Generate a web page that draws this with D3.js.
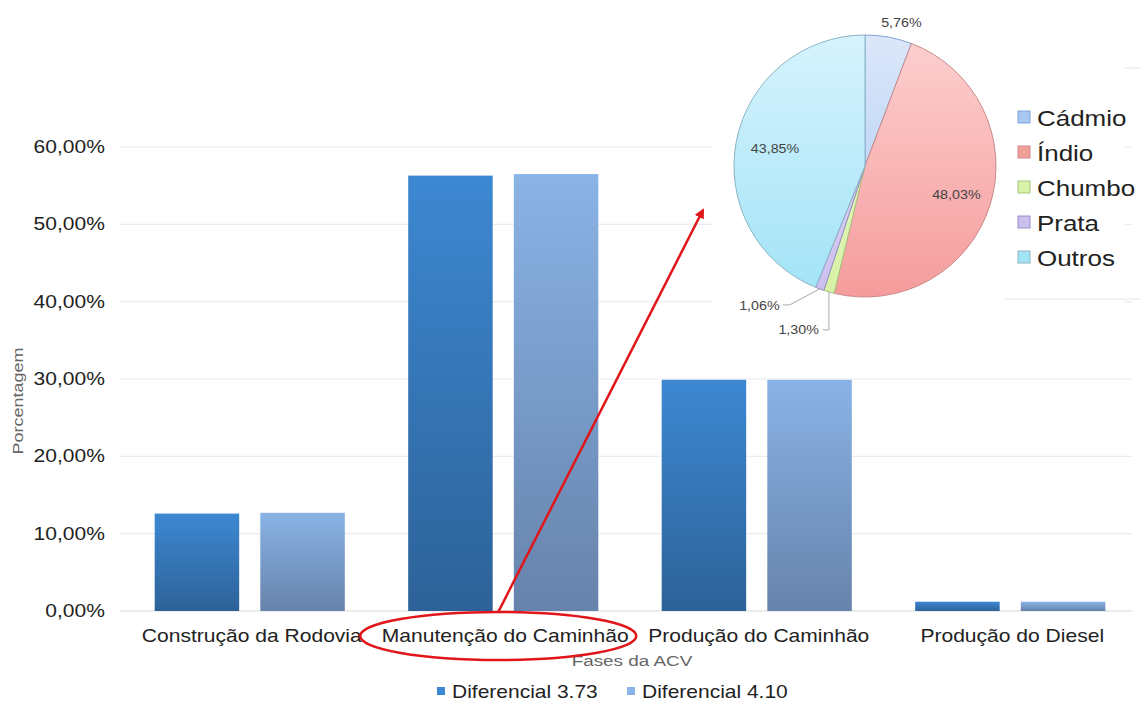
<!DOCTYPE html>
<html>
    <head>
        <meta charset="utf-8">
        <title>Fases da ACV</title>
        <style type="text/css">
            body {
                margin: 0;
                background-color: #ffffff;
            }
            svg {
                display: block;
                font-family: "Liberation Sans", Arial, sans-serif;
            }
        </style>
        <script src="https://d3js.org/d3.v7.min.js"></script>
    </head>
    <body>
        <svg id="chart" width="1141" height="702"></svg>
        <script>
            // bar chart data
            const fases = ["Construção da Rodovia", "Manutenção do Caminhão", "Produção do Caminhão", "Produção do Diesel"];
            const series = ["Diferencial 3.73", "Diferencial 4.10"];
            const dif373 = [12.6, 56.3, 29.9, 1.2];
            const dif410 = [12.7, 56.5, 29.9, 1.2];
            const yTicks = [0, 10, 20, 30, 40, 50, 60];

            // pie inset data
            const metais = ["Cádmio", "Índio", "Chumbo", "Prata", "Outros"];
            const metalPct = [5.76, 48.03, 1.30, 1.06, 43.85];

            const svg = d3.select("#chart");
            const defs = svg.append("defs");

            // the source picture is stretched sideways, so the text is too
            const SX = 1.17;
            const fmt = v => v.toFixed(2).replace(".", ",") + "%";
            const place = (x, y, sx) => `translate(${x},${y}) scale(${sx || SX},1)`;

            const x0 = d3.scaleBand().domain(fases).range([123, 1137]).paddingInner(0.25).paddingOuter(0.125);
            const x1 = d3.scaleBand().domain(series).range([0, x0.bandwidth()]).paddingInner(0.2);
            const y = d3.scaleLinear().domain([0, 60]).range([611, 147]);

            // gradients
            const barGrad = [["#3d88d2", "#2d6298"], ["#8ab3e6", "#6683ab"]];
            series.forEach((s, i) => {
                const g = defs.append("linearGradient").attr("id", "bar" + i)
                    .attr("x1", 0).attr("y1", 0).attr("x2", 0).attr("y2", 1);
                g.append("stop").attr("offset", "0%").attr("stop-color", barGrad[i][0]);
                g.append("stop").attr("offset", "100%").attr("stop-color", barGrad[i][1]);
            });

            // gridlines
            svg.append("g").selectAll("line").data(yTicks).join("line")
                .attr("x1", 120).attr("x2", 1132)
                .attr("y1", d => y(d)).attr("y2", d => y(d))
                .attr("stroke", d => d === 0 ? "#d9d9d9" : "#ececec")
                .attr("stroke-width", 1.2);

            // y tick labels
            svg.append("g").selectAll("text").data(yTicks).join("text")
                .attr("transform", d => place(105, y(d) + 6))
                .attr("text-anchor", "end")
                .attr("font-size", 18)
                .attr("fill", "#222")
                .text(d => fmt(d));

            // bars
            const rows = fases.map((f, i) => ({ fase: f, vals: [dif373[i], dif410[i]] }));
            svg.append("g").selectAll("g").data(rows).join("g")
                .attr("transform", d => `translate(${x0(d.fase)},0)`)
                .selectAll("rect").data(d => d.vals.map((v, i) => ({ s: series[i], i: i, v: v }))).join("rect")
                .attr("x", d => x1(d.s))
                .attr("y", d => y(d.v))
                .attr("width", x1.bandwidth())
                .attr("height", d => y(0) - y(d.v))
                .attr("fill", d => `url(#bar${d.i})`);

            // x labels
            svg.append("g").selectAll("text").data(fases).join("text")
                .attr("transform", d => place(x0(d) + x0.bandwidth() / 2 + 2, 642))
                .attr("text-anchor", "middle")
                .attr("font-size", 18)
                .attr("fill", "#222")
                .text(d => d);

            svg.append("text")
                .attr("transform", place(632, 666, 1.22))
                .attr("text-anchor", "middle")
                .attr("font-size", 15.5)
                .attr("fill", "#666")
                .text("Fases da ACV");

            svg.append("text")
                .attr("transform", "translate(23,401) rotate(-90) scale(1.2,1)")
                .attr("text-anchor", "middle")
                .attr("font-size", 15)
                .attr("fill", "#666")
                .text("Porcentagem");

            // bottom legend
            const leg = svg.append("g").selectAll("g").data(series).join("g")
                .attr("transform", (d, i) => `translate(${437 + i * 190},0)`);
            leg.append("rect").attr("x", 0).attr("y", 687).attr("width", 8).attr("height", 8)
                .attr("fill", (d, i) => barGrad[i][0]);
            leg.append("text").attr("transform", place(15, 698, 1.2))
                .attr("font-size", 17.5).attr("fill", "#222")
                .text(d => d);

            // pie inset background
            svg.append("rect").attr("x", 713).attr("y", 0).attr("width", 412).attr("height", 340).attr("fill", "#fff");
            svg.append("line").attr("x1", 1125).attr("x2", 1141).attr("y1", 68).attr("y2", 68).attr("stroke", "#e6e6e6");
            svg.append("line").attr("x1", 1005).attr("x2", 1141).attr("y1", 299).attr("y2", 299).attr("stroke", "#e6e6e6");

            const pieCol = [
                ["#dbe7fa", "#a9c7f1", "#7ea3d6"],
                ["#fdd0d0", "#f59c9c", "#c98a8a"],
                ["#eefad4", "#d6f2a6", "#a6c47c"],
                ["#e8e1f8", "#cbbff0", "#9a8dc2"],
                ["#d6f3fd", "#a2e3f7", "#8ab4c4"]
            ];
            metais.forEach((m, i) => {
                const g = defs.append("linearGradient").attr("id", "pie" + i)
                    .attr("gradientUnits", "userSpaceOnUse")
                    .attr("x1", 0).attr("y1", -131).attr("x2", 0).attr("y2", 131);
                g.append("stop").attr("offset", "0%").attr("stop-color", pieCol[i][0]);
                g.append("stop").attr("offset", "100%").attr("stop-color", pieCol[i][1]);
            });

            const cx = 865, cy = 166, R = 131;
            const pie = d3.pie().sort(null).value(d => d)(metalPct);
            const arc = d3.arc().innerRadius(0).outerRadius(R);
            const pg = svg.append("g").attr("transform", `translate(${cx},${cy})`);
            pg.selectAll("path").data(pie).join("path")
                .attr("d", arc)
                .attr("fill", (d, i) => `url(#pie${i})`)
                .attr("stroke", (d, i) => pieCol[i][2])
                .attr("stroke-width", 1);

            // pie labels: radius factor per label (0 = leader line label)
            const labR = [1.12, 0.73, 0, 0, 0.7];
            const mid = d => (d.startAngle + d.endAngle) / 2;
            pie.forEach((d, i) => {
                if (labR[i] === 0) return;
                const a = mid(d), r = R * labR[i];
                pg.append("text")
                    .attr("transform", place(Math.sin(a) * r + (i === 0 ? 10 : 0), -Math.cos(a) * r + 5, 1.1))
                    .attr("text-anchor", "middle")
                    .attr("font-size", 13)
                    .attr("fill", "#444")
                    .text(fmt(metalPct[i]));
            });

            // leader lines for the two small slices
            const aC = mid(pie[2]), aP = mid(pie[3]);
            const eC = [Math.sin(aC) * R, -Math.cos(aC) * R];
            const eP = [Math.sin(aP) * R, -Math.cos(aP) * R];
            pg.append("path")
                .attr("d", `M${eC[0]},${eC[1]} L${eC[0]},${eC[1] + 38} L${eC[0] - 6},${eC[1] + 38}`)
                .attr("fill", "none").attr("stroke", "#aaa").attr("stroke-width", 1);
            pg.append("text").attr("transform", place(eC[0] - 10, eC[1] + 42, 1.1))
                .attr("text-anchor", "end").attr("font-size", 13).attr("fill", "#444")
                .text(fmt(metalPct[2]));
            pg.append("path")
                .attr("d", `M${eP[0]},${eP[1]} L${eP[0] - 30},${eP[1] + 16} L${eP[0] - 37},${eP[1] + 16}`)
                .attr("fill", "none").attr("stroke", "#aaa").attr("stroke-width", 1);
            pg.append("text").attr("transform", place(eP[0] - 40, eP[1] + 21, 1.1))
                .attr("text-anchor", "end").attr("font-size", 13).attr("fill", "#444")
                .text(fmt(metalPct[3]));

            // pie legend
            const pl = svg.append("g").selectAll("g").data(metais).join("g")
                .attr("transform", (d, i) => `translate(1018,${111 + i * 35})`);
            pl.append("rect").attr("x", 0).attr("y", 0).attr("width", 12).attr("height", 12)
                .attr("fill", (d, i) => pieCol[i][1]).attr("stroke", (d, i) => pieCol[i][2]);
            pl.append("text").attr("transform", place(19, 15, 1.18))
                .attr("font-size", 22).attr("fill", "#222")
                .text(d => d);

            // red highlight: ellipse + arrow
            const hx = x0(fases[1]) + x0.bandwidth() / 2 - 5;
            svg.append("ellipse").attr("cx", hx).attr("cy", 636).attr("rx", 138).attr("ry", 24)
                .attr("fill", "none").attr("stroke", "#e0161b").attr("stroke-width", 2.5);
            defs.append("marker").attr("id", "arrow").attr("viewBox", "0 0 10 10")
                .attr("refX", 8).attr("refY", 5).attr("markerWidth", 4).attr("markerHeight", 4)
                .attr("orient", "auto")
                .append("path").attr("d", "M0,0 L10,5 L0,10 z").attr("fill", "#e0161b");
            svg.append("line").attr("x1", hx).attr("y1", 612).attr("x2", 703).attr("y2", 210)
                .attr("stroke", "#e0161b").attr("stroke-width", 2.5)
                .attr("marker-end", "url(#arrow)");
        </script>
    </body>
</html>
